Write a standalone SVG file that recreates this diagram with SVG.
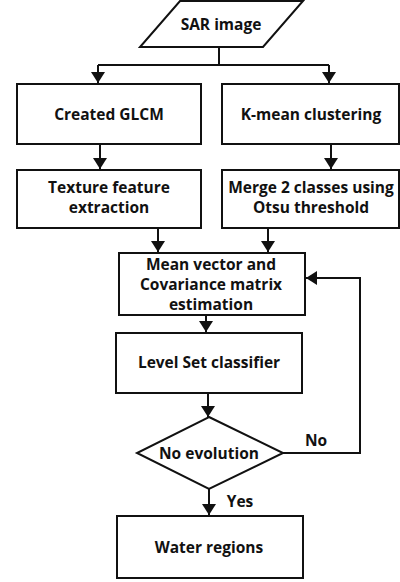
<svg xmlns="http://www.w3.org/2000/svg" width="400" height="582" viewBox="0 0 400 582">
<style>
.s{fill:#fff;stroke:#111;stroke-width:2}
.t{font-family:"Open Sans","Liberation Sans",sans-serif;font-weight:bold;font-size:15.5px;fill:#111;text-anchor:middle}
.c{fill:none;stroke:#111;stroke-width:2}
</style>
<defs>
<marker id="a" markerUnits="userSpaceOnUse" markerWidth="14" markerHeight="14" refX="11" refY="7" orient="auto">
<path d="M0,0 L11,7 L0,14 Z" fill="#111"/>
</marker>
</defs>
<rect width="400" height="582" fill="#fff"/>
<g id="connectors">
<path class="c" d="M219,48 V65"/>
<path class="c" d="M98,65 H329"/>
<path class="c" d="M98,65 V83" marker-end="url(#a)"/>
<path class="c" d="M329,65 V83" marker-end="url(#a)"/>
<path class="c" d="M100,144 V169" marker-end="url(#a)"/>
<path class="c" d="M331,144 V169" marker-end="url(#a)"/>
<path class="c" d="M158,228 V252" marker-end="url(#a)"/>
<path class="c" d="M268,228 V252" marker-end="url(#a)"/>
<path class="c" d="M206,315 V332" marker-end="url(#a)"/>
<path class="c" d="M208,393 V417" marker-end="url(#a)"/>
<path class="c" d="M283,453 H360 V278 H306" marker-end="url(#a)"/>
<path class="c" d="M209,489 V515" marker-end="url(#a)"/>
<text class="t" x="316" y="446">No</text>
<text class="t" x="240" y="507">Yes</text>
</g>
<g id="sar"><path class="s" d="M180,1 H303 L263,47 H140 Z"/><text class="t" x="221" y="30">SAR image</text></g>
<g id="glcm"><rect class="s" x="17" y="84" width="184" height="60"/><text class="t" x="109" y="120">Created GLCM</text></g>
<g id="kmean"><rect class="s" x="222" y="84" width="177" height="60"/><text class="t" x="311" y="120">K-mean clustering</text></g>
<g id="texture"><rect class="s" x="17" y="170" width="184" height="58"/><text class="t" x="109" y="193">Texture feature</text><text class="t" x="109" y="213">extraction</text></g>
<g id="merge"><rect class="s" x="222" y="170" width="177" height="58"/><text class="t" x="311" y="193">Merge 2 classes using</text><text class="t" x="311" y="213">Otsu threshold</text></g>
<g id="mean"><rect class="s" x="119" y="253" width="186" height="62"/><text class="t" x="211" y="270">Mean vector and</text><text class="t" x="211" y="290">Covariance matrix</text><text class="t" x="211" y="310">estimation</text></g>
<g id="levelset"><rect class="s" x="116" y="333" width="186" height="60"/><text class="t" x="209" y="368">Level Set classifier</text></g>
<g id="decision"><path class="s" d="M209,417 L283,453 L209,489 L137,453 Z"/><text class="t" x="209" y="459">No evolution</text></g>
<g id="water"><rect class="s" x="117" y="516" width="186" height="62"/><text class="t" x="209" y="553">Water regions</text></g>
</svg>
